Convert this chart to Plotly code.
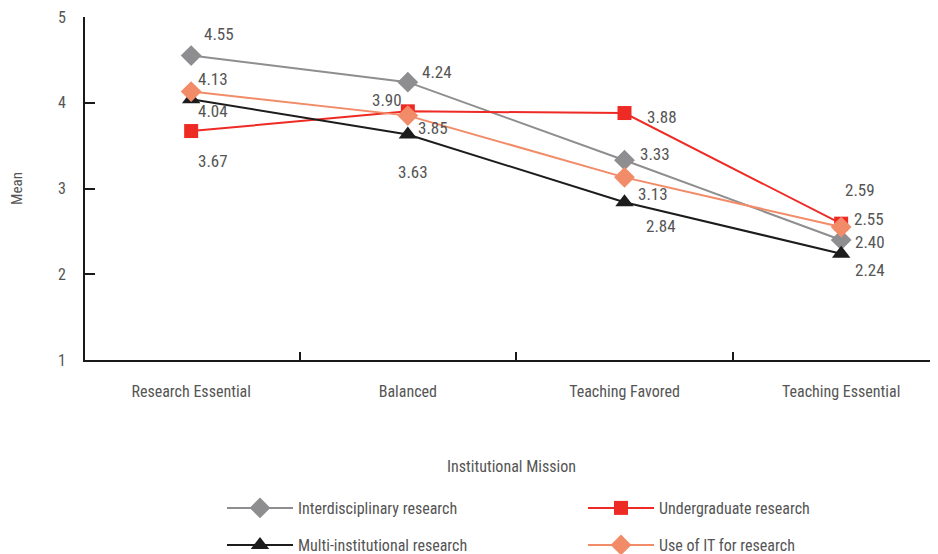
import plotly.graph_objects as go

categories = ["Research Essential", "Balanced", "Teaching Favored", "Teaching Essential"]
interdisciplinary = [4.55, 4.24, 3.33, 2.40]
undergraduate = [3.67, 3.90, 3.88, 2.59]
multi_institutional = [4.04, 3.63, 2.84, 2.24]
use_of_it = [4.13, 3.85, 3.13, 2.55]
series_names = ["Interdisciplinary research", "Undergraduate research",
                "Multi-institutional research", "Use of IT for research"]
y_ticks = [1, 2, 3, 4, 5]

series = [interdisciplinary, undergraduate, multi_institutional, use_of_it]
colors = ["#8e8e90", "#ee2a24", "#1c1c1c", "#f28b68"]
symbols = ["diamond", "square", "triangle-up", "diamond"]
sizes = [16, 14, 16, 16]
legend_ids = ["legend", "legend", "legend2", "legend2"]
# label pixel offsets (dx, dy) relative to each point
offsets = [
    [(28, 22), (29, 10), (31, 6), (29, -2)],
    [(22, -30), (-21, 11), (38, -4), (19, 34)],
    [(22, -12), (5, -38), (37, -24), (29, -16)],
    [(22, 13), (25, -12), (29, -17), (28, 8)],
]

FONT = "Liberation Sans Narrow, Arial Narrow, Roboto Condensed, sans-serif"
TXT = "#555555"
W, H = 930, 546

fig = go.Figure()
for name, vals, c, s, sz, lg in zip(series_names, series, colors, symbols, sizes, legend_ids):
    fig.add_trace(go.Scatter(
        x=categories, y=vals, name=name, mode="lines+markers",
        line=dict(color=c, width=2),
        marker=dict(symbol=s, size=sz, color=c),
        legend=lg,
    ))

for vals, offs in zip(series, offsets):
    for cat, v, (dx, dy) in zip(categories, vals, offs):
        fig.add_annotation(x=cat, y=v, text=f"{v:.2f}", showarrow=False,
                           xshift=dx, yshift=dy,
                           font=dict(family=FONT, size=17, color=TXT))

leg_common = dict(orientation="h", xref="container", yref="container",
                  x=214 / W, xanchor="left", yanchor="middle",
                  entrywidth=280, entrywidthmode="pixels",
                  font=dict(family=FONT, size=16, color=TXT),
                  itemwidth=66, bgcolor="rgba(0,0,0,0)")

fig.update_layout(
    width=W, height=H,
    margin=dict(l=77, r=0, t=9, b=194, autoexpand=False),
    paper_bgcolor="white", plot_bgcolor="white",
    font=dict(family=FONT, size=16, color=TXT),
    showlegend=True,
    legend=dict(y=1 - 500 / H, **leg_common),
    legend2=dict(y=1 - 537 / H, **leg_common),
)
fig.update_xaxes(
    type="category", range=[-0.49, 3.447],
    showline=True, linecolor="#1a1a1a", linewidth=2,
    ticks="inside", ticklen=8, tickcolor="#1a1a1a", tickwidth=2,
    tickson="boundaries", showgrid=False, zeroline=False,
    ticklabelstandoff=16, ticklabeloverflow="allow",
    tickfont=dict(family=FONT, size=16, color=TXT),
    title=dict(text="Institutional Mission", standoff=61,
               font=dict(family=FONT, size=16, color=TXT)),
)
fig.update_yaxes(
    range=[1, 5], tickvals=y_ticks,
    showline=True, linecolor="#1a1a1a", linewidth=2,
    ticks="inside", ticklen=10, tickcolor="#1a1a1a", tickwidth=2,
    showgrid=False, zeroline=False,
    ticklabelstandoff=14, ticklabeloverflow="allow",
    tickfont=dict(family=FONT, size=16, color=TXT),
    title=dict(text="Mean", standoff=32, font=dict(family=FONT, size=15, color=TXT)),
)

fig.write_html("out.html")
